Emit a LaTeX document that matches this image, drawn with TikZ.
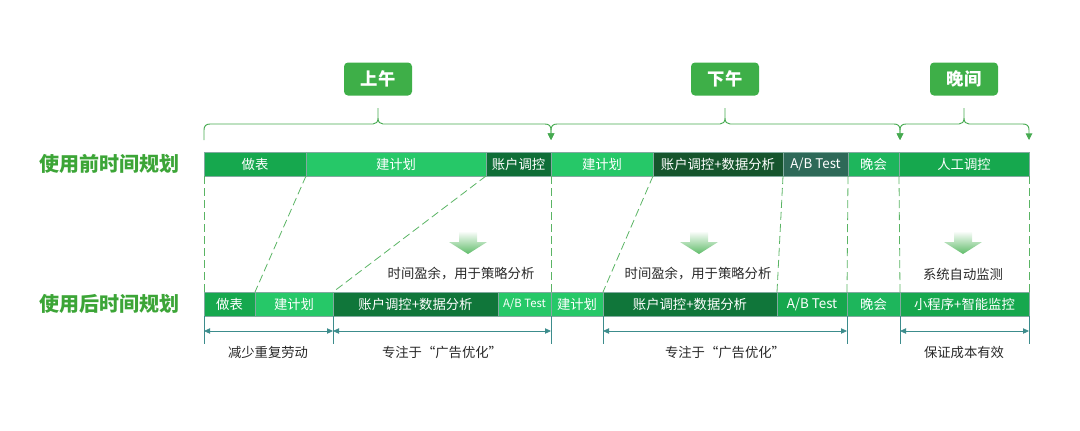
\documentclass[tikz,border=0pt]{standalone}
\usepackage{fontspec}
\setmainfont{Noto Sans CJK SC}
\usetikzlibrary{arrows.meta,positioning}

\definecolor{cMid}{RGB}{22,168,78}
\definecolor{cBright}{RGB}{38,200,104}
\definecolor{cDark}{RGB}{15,110,55}
\definecolor{cDeep}{RGB}{22,85,45}
\definecolor{cSlate}{RGB}{46,105,88}
\definecolor{cEve}{RGB}{30,182,92}
\definecolor{cDarkB}{RGB}{16,118,58}
\definecolor{cTitle}{RGB}{62,175,72}
\definecolor{cLabel}{RGB}{60,165,55}
\definecolor{cBrace}{RGB}{70,170,80}
\definecolor{cGuide}{RGB}{90,180,100}
\definecolor{cTeal}{RGB}{60,140,140}
\definecolor{cEdge}{RGB}{130,170,160}
\definecolor{cNote}{RGB}{40,40,40}
\definecolor{cArrow}{RGB}{95,188,105}

\tikzset{
  seg/.style={minimum width=#1*0.75pt, minimum height=18pt, inner sep=0pt, outer sep=0pt,
    anchor=west, draw=cEdge, line width=0.4pt, text=white,
    font=\fontsize{10}{12}\selectfont},
  period/.style={fill=cTitle, rounded corners=3pt, text=white,
    font=\bfseries\fontsize{13}{15}\selectfont, minimum width=51pt, minimum height=24.75pt},
  rowlabel/.style={text=cLabel, anchor=east, inner sep=0pt,
    font=\bfseries\fontsize{15}{18}\selectfont},
  note/.style={text=cNote, inner sep=0.75pt, font=\fontsize{10}{12}\selectfont},
  brace/.style={draw=cBrace, line width=0.7pt, >={Triangle[width=5pt,length=5pt]}},
  guide/.style={draw=cGuide, line width=0.6pt, dash pattern=on 6pt off 3pt},
  dim/.style={draw=cTeal, line width=0.6pt, <->, >={Triangle[width=4pt,length=4.5pt]}},
  tick/.style={draw=cTeal, line width=0.6pt}
}

\begin{document}
\begin{tikzpicture}[x=0.75pt,y=0.75pt,yscale=-1,xscale=1]
\useasboundingbox (0,0) rectangle (1080,430);

% Text Node
\node [period] (am) at (378,79) {上午};
% Text Node
\node [period] (pm) at (725,79) {下午};
% Text Node
\node [period] (ev) at (964,79) {晚间};

%Curve Lines
\draw [brace, ->] (204,140) -- (204,130) .. controls (204,126) and (206,124) .. (210,124) -- (373,124) .. controls (376,124) and (378,122) .. (378,118) -- (378,108) -- (378,118) .. controls (378,122) and (380,124) .. (383,124) -- (545,124) .. controls (549,124) and (551,126) .. (551,130) -- (551,140) ;
%Curve Lines
\draw [brace, <->] (551,140) -- (551,130) .. controls (551,126) and (553,124) .. (557,124) -- (720,124) .. controls (723,124) and (725,122) .. (725,118) -- (725,108) -- (725,118) .. controls (725,122) and (727,124) .. (730,124) -- (894,124) .. controls (898,124) and (900,126) .. (900,130) -- (900,140) ;
%Curve Lines
\draw [brace, <->] (900,140) -- (900,130) .. controls (900,126) and (902,124) .. (906,124) -- (959,124) .. controls (962,124) and (964,122) .. (964,118) -- (964,108) -- (964,118) .. controls (964,122) and (966,124) .. (969,124) -- (1023,124) .. controls (1027,124) and (1029,126) .. (1029,130) -- (1029,140) ;

% Text Node
\node [rowlabel] (before) at (180,164) {使用前时间规划};
% Text Node
\node [rowlabel] (after) at (180,304) {使用后时间规划};

%Shape: Rectangle (before)
\node [seg=102, fill=cMid] (t1) at (204,164) {做表};
\node [seg=180, fill=cBright] (t2) at (t1.east) {建计划};
\node [seg=65, fill=cDark] (t3) at (t2.east) {账户调控};
\node [seg=102, fill=cBright] (t4) at (t3.east) {建计划};
\node [seg=130, fill=cDeep] (t5) at (t4.east) {账户调控+数据分析};
\node [seg=65, fill=cSlate] (t6) at (t5.east) {A/B Test};
\node [seg=51, fill=cEve] (t7) at (t6.east) {晚会};
\node [seg=130, fill=cMid] (t8) at (t7.east) {人工调控};

%Shape: Rectangle (after)
\node [seg=51, fill=cMid] (b1) at (204,304) {做表};
\node [seg=78, fill=cBright] (b2) at (b1.east) {建计划};
\node [seg=165, fill=cDarkB] (b3) at (b2.east) {账户调控+数据分析};
\node [seg=53, fill=cBright, font=\fontsize{8.5}{10}\selectfont] (b4) at (b3.east) {A/B Test};
\node [seg=52, fill=cBright] (b5) at (b4.east) {建计划};
\node [seg=174, fill=cDarkB] (b6) at (b5.east) {账户调控+数据分析};
\node [seg=70, fill=cMid] (b7) at (b6.east) {A/B Test};
\node [seg=53, fill=cEve] (b8) at (b7.east) {晚会};
\node [seg=129, fill=cMid] (b9) at (b8.east) {小程序+智能监控};

%Straight Lines
\draw [guide] (t1.south west) -- (b1.north west) ;
\draw [guide] (t1.south east) -- (b1.north east) ;
\draw [guide] (t2.south east) -- (b2.north east) ;
\draw [guide] (t3.south east) -- (b4.north east) ;
\draw [guide] (t4.south east) -- (b5.north east) ;
\draw [guide] (t5.south east) -- (b6.north east) ;
\draw [guide] (t6.south east) -- (b7.north east) ;
\draw [guide] (t7.south east) -- (b8.north east) ;
\draw [guide] (t8.south east) -- (b9.north east) ;

%Shape: Down Arrow
\foreach \ax in {468,699,963}
  \shade [top color=white, bottom color=cArrow] (\ax-9,231) -- (\ax+9,231) -- (\ax+9,242) -- (\ax+19,242) -- (\ax,254) -- (\ax-19,242) -- (\ax-9,242) -- cycle ;

% Text Node
\node [note] (gain1) at (461,274) {时间盈余，用于策略分析};
% Text Node
\node [note] (gain2) at (698,274) {时间盈余，用于策略分析};
% Text Node
\node [note] (auto) at (963,274) {系统自动监测};

%Straight Lines
\foreach \n/\a in {b1/south west,b2/south east,b4/south east,b5/south east,b7/south east,b8/south east,b9/south east}
  \draw [tick] (\n.\a) -- ++(0,28) ;
\draw [dim] ([yshift=11.25pt]b1.south west) -- ([yshift=11.25pt]b2.south east) ;
\draw [dim] ([yshift=11.25pt]b2.south east) -- ([yshift=11.25pt]b4.south east) ;
\draw [dim] ([yshift=11.25pt]b5.south east) -- ([yshift=11.25pt]b7.south east) ;
\draw [dim] ([yshift=11.25pt]b8.south east) -- ([yshift=11.25pt]b9.south east) ;

% Text Node
\node [note] (less) at (268,352) {减少重复劳动};
% Text Node
\node [note] (focus1) at (442,352) {专注于“广告优化”};
% Text Node
\node [note] (focus2) at (725,352) {专注于“广告优化”};
% Text Node
\node [note] (keep) at (964,352) {保证成本有效};

\end{tikzpicture}
\end{document}
